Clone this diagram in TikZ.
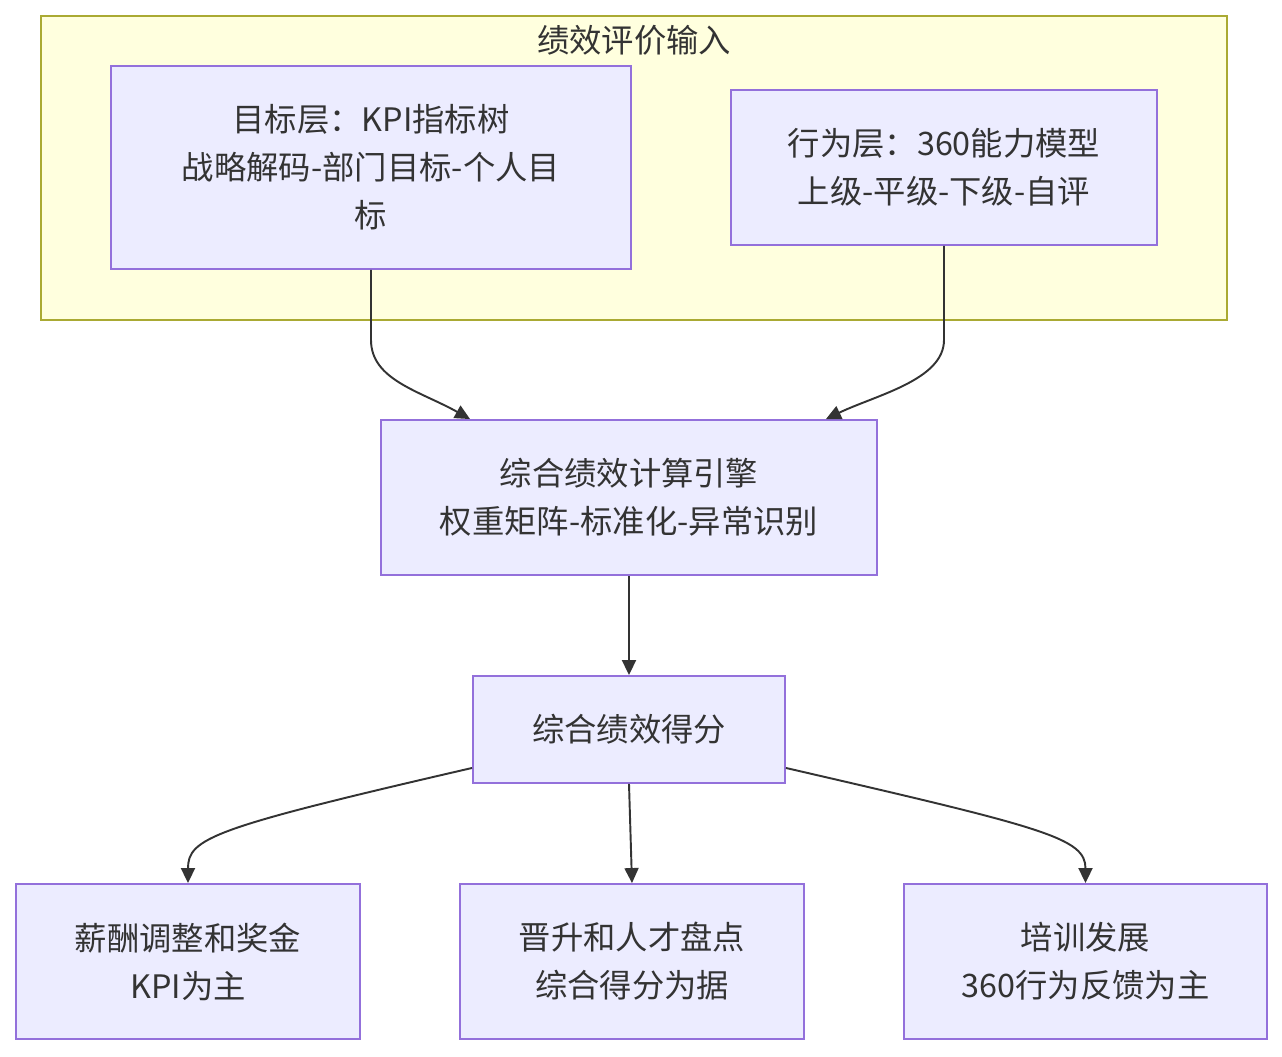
\documentclass[tikz,border=0pt]{standalone}
\usepackage{fontspec}
\setmainfont{Noto Sans CJK SC}
\usepackage{xcolor}
\usetikzlibrary{arrows.meta,positioning,calc}
\definecolor{nfill}{HTML}{ECECFF}
\definecolor{ndraw}{HTML}{9370DB}
\definecolor{cfill}{HTML}{FFFFDE}
\definecolor{cdraw}{HTML}{AAAA33}
\definecolor{ink}{HTML}{333333}
\tikzset{
  Nbox/.style={draw=ndraw, fill=nfill, line width=1.1pt, align=center,
               text=ink, font=\fontsize{18.4}{27.3}\selectfont,
               minimum height=3.1cm, inner sep=2pt},
  Cbox/.style={draw=cdraw, fill=cfill, line width=1.1pt},
  Narr/.style={-{Triangle[length=0.3cm,width=0.28cm]}, line width=1.1pt, draw=ink}
}

\begin{document}
\begin{tikzpicture}[x=0.02cm, y=-0.02cm]
  \useasboundingbox (0,0) rectangle (1282,1056);

  % input cluster
  \draw[Cbox] (41,16) rectangle (1227,320);
  \node[text=ink, font=\fontsize{18.4}{27.3}\selectfont] (ttl) at (634,40) {绩效评价输入};

  \node[Nbox, minimum width=10.4cm, minimum height=4.06cm] (tgt) at (371,167.5)
    {目标层：KPI指标树\\战略解码-部门目标-个人目\\标};
  \node[Nbox, minimum width=8.52cm] (beh) at (944,167.5)
    {行为层：360能力模型\\上级-平级-下级-自评};

  \node[Nbox, minimum width=9.92cm] (calc) at (629,497.5)
    {综合绩效计算引擎\\权重矩阵-标准化-异常识别};
  \node[Nbox, minimum width=6.24cm, minimum height=2.14cm] (score) at (629,729.5)
    {综合绩效得分};

  \node[Nbox, minimum width=6.88cm] (pay) at (188,961.5)
    {薪酬调整和奖金\\KPI为主};
  \node[Nbox, minimum width=6.88cm] (promo) at (632,961.5)
    {晋升和人才盘点\\综合得分为据};
  \node[Nbox, minimum width=7.26cm] (train) at (1085.5,961.5)
    {培训发展\\360行为反馈为主};

  \draw[Narr] (tgt.south) -- ++(0,70) .. controls +(0,40) and +(-50,-28) .. ([xshift=-3.18cm]calc.north);
  \draw[Narr] (beh.south) -- ++(0,94) .. controls +(0,40) and +(50,-24) .. ([xshift=3.94cm]calc.north);
  \draw[Narr] (calc.south) -- (score.north);
  \draw[Narr] ([yshift=0.32cm]score.south west) .. controls +(-260,60) and +(0,-45) .. (pay.north);
  \draw[Narr] (score.south) -- (promo.north);
  \draw[Narr] ([yshift=0.32cm]score.south east) .. controls +(260,60) and +(0,-45) .. (train.north);
\end{tikzpicture}
\end{document}
